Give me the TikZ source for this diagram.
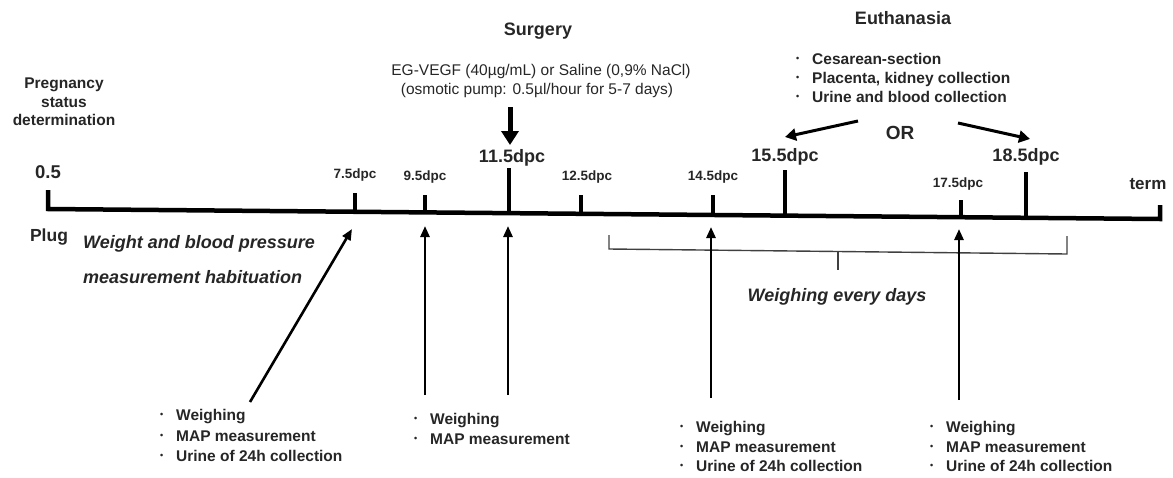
\documentclass[tikz,border=0pt]{standalone}
\usepackage{fontspec}
\setmainfont{Liberation Sans}
\usetikzlibrary{arrows.meta,calc}
\newcommand{\fsz}[1]{\fontsize{#1}{#1}\selectfont}
\newcommand{\bul}{\makebox[16pt][l]{\raisebox{3pt}{\fsz{9}•}}}
\begin{document}
\begin{tikzpicture}[x=1pt,y=-1pt,
  txt/.style={inner sep=0pt, text=black!85},
  bld/.style={txt, font=\bfseries\fsz{#1}},
  reg/.style={txt, font=\fsz{#1}},
  smalldpc/.style={bld=13.5, anchor=base},
  bigdpc/.style={bld=18, anchor=base},
  listtxt/.style={txt, align=left, anchor=north west, font=\bfseries\fontsize{15.5}{#1}\selectfont},
  axisline/.style={line width=4.5pt, line join=miter},
  tickline/.style={line width=4pt},
  uparr/.style={line width=2.6pt, -{Triangle[width=9pt,length=11pt]}},
  orarr/.style={line width=3pt, -{Triangle[width=12pt,length=11pt]}},
  bracketline/.style={line width=1.4pt, black!75}
]
\useasboundingbox (0,0) rectangle (1173,477);

% ---- axis ----
\coordinate (top05) at (48,190);
\coordinate (b05) at (48,209);
\coordinate (bterm) at (1160,219);
\coordinate (topterm) at (1160,205);
\draw[axisline] (top05) -- (b05) -- (bterm) -- (topterm);

\coordinate (b75) at (355,212);   \coordinate (t75) at (355,193);
\coordinate (b95) at (425,212.5); \coordinate (t95) at (425,195);
\coordinate (b115) at (509,213);  \coordinate (t115) at (509,168);
\coordinate (b125) at (581,214);  \coordinate (t125) at (581,195);
\coordinate (b145) at (713,215);  \coordinate (t145) at (713,195);
\coordinate (b155) at (785,215.5);\coordinate (t155) at (785,170);
\coordinate (b175) at (961,217);  \coordinate (t175) at (961,200);
\coordinate (b185) at (1026,218); \coordinate (t185) at (1026,172);
\foreach \k in {75,95,115,125,145,155,175,185}
  \draw[tickline] (b\k) -- (t\k);

% ---- tick labels ----
\node[bld=18.5, anchor=base] (l05) at (48,178) {0.5};
\node[bld=17.5, anchor=base] (plug) at (49,241) {Plug};
\node[smalldpc] (l75) at (355,178) {7.5dpc};
\node[smalldpc] (l95) at (425,180) {9.5dpc};
\node[bigdpc] (l115) at (512,162) {11.5dpc};
\node[smalldpc] (l125) at (587,180) {12.5dpc};
\node[smalldpc] (l145) at (713,180) {14.5dpc};
\node[bigdpc] (l155) at (785,161) {15.5dpc};
\node[smalldpc] (l175) at (958,187) {17.5dpc};
\node[bigdpc] (l185) at (1026,161) {18.5dpc};
\node[bld=17, anchor=base] (lterm) at (1148,189) {term};

% ---- pregnancy ----
\node[bld=15.5, anchor=base] (preg1) at (64,88) {Pregnancy};
\node[bld=15.5, anchor=base] (preg2) at (64,107) {status};
\node[bld=15.5, anchor=base] (preg3) at (64,125) {determination};

% ---- habituation ----
\node[txt, font=\bfseries\itshape\fsz{18}, anchor=base west] (hab1) at (83,248) {Weight and blood pressure};
\node[txt, font=\bfseries\itshape\fsz{18}, anchor=base west] (hab2) at (83,283) {measurement habituation};

% ---- surgery ----
\node[bld=18, anchor=base] (surg) at (538,35) {Surgery};
\node[reg=15.5, anchor=base] (drug1) at (541,75.5) {EG-VEGF (40µg/mL) or Saline (0,9\% NaCl)};
\node[reg=15.5, anchor=base] (drug2) at (537,94.5) {(osmotic pump: 0.5µl/hour for 5-7 days)};
\coordinate (s1) at (510,107);
\coordinate (s2) at (510,145);
\draw[line width=5pt, -{Triangle[width=17pt,length=14pt]}] (s1) -- (s2);

% ---- euthanasia ----
\node[bld=18, anchor=base] (euth) at (903,24.5) {Euthanasia};
\node[listtxt=19] (elist) at (796,53.5) {\bul Cesarean-section\\\bul Placenta, kidney collection\\\bul Urine and blood collection};
\node[bld=19, anchor=base] (or) at (900,139) {OR};
\coordinate (o1s) at (858,121);
\coordinate (o1e) at (785,137);
\coordinate (o2s) at (958,123);
\coordinate (o2e) at (1030,139);
\draw[orarr] (o1s) -- (o1e);
\draw[orarr] (o2s) -- (o2e);

% ---- bracket ----
\coordinate (k1) at (609,235);
\coordinate (k2) at (609,249);
\coordinate (k3) at (1067,254);
\coordinate (k4) at (1067,236);
\coordinate (km1) at (838,251.5);
\coordinate (km2) at (838,270);
\draw[bracketline] (k1) -- (k2) -- (k3) -- (k4);
\draw[bracketline] (km1) -- (km2);
\node[txt, font=\bfseries\itshape\fsz{18}, anchor=base] (every) at (837,301) {Weighing every days};

% ---- lists ----
\node[listtxt=20.5] (g1) at (160,409.5) {\bul Weighing\\\bul MAP measurement\\\bul Urine of 24h collection};
\node[listtxt=20] (g2) at (414,413.5) {\bul Weighing\\\bul MAP measurement};
\node[listtxt=19.5] (g3) at (680,421.5) {\bul Weighing\\\bul MAP measurement\\\bul Urine of 24h collection};
\node[listtxt=19.5] (g4) at (930,421.5) {\bul Weighing\\\bul MAP measurement\\\bul Urine of 24h collection};

% ---- up arrows ----
\coordinate (a1s) at (250,402); \coordinate (a1e) at (352,229);
\coordinate (a2s) at (425,395); \coordinate (a2e) at (425,226);
\coordinate (a3s) at (508,395); \coordinate (a3e) at (508,226);
\coordinate (a4s) at (711,398); \coordinate (a4e) at (711,227);
\coordinate (a5s) at (959,400); \coordinate (a5e) at (959,229);
\foreach \k in {1,...,5}
  \draw[uparr] (a\k s) -- (a\k e);
\end{tikzpicture}
\end{document}
